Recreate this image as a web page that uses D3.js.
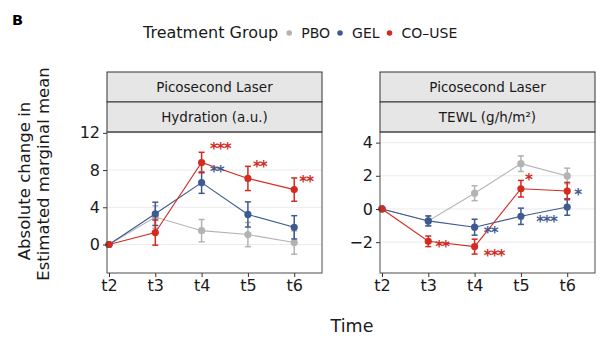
<!DOCTYPE html>
<html>
<head>
<meta charset="utf-8">
<script src="https://cdn.jsdelivr.net/npm/d3@7"></script>
<style>
  body { margin: 0; background: #fff; }
  text { font-family: "DejaVu Sans", sans-serif; }
</style>
</head>
<body>
<svg id="chart" width="607" height="346"></svg>
<script>
const times = ['t2', 't3', 't4', 't5', 't6']
const groups = ['PBO', 'GEL', 'CO–USE']
const groupColors = ['#b3b3b3', '#3d5a91', '#d22b22']

// Hydration (a.u.): mean change and half-width of error bar, per group
const hydrationPBO = [0, 2.95, 1.49, 1.07, 0.21]
const hydrationPBOErr = [0, 1.2, 1.2, 1.3, 1.25]
const hydrationGEL = [0, 3.3, 6.65, 3.23, 1.85]
const hydrationGELErr = [0, 1.25, 1.15, 1.35, 1.25]
const hydrationCO = [0, 1.28, 8.81, 7.1, 5.9]
const hydrationCOErr = [0, 1.35, 1.1, 1.3, 1.25]

// TEWL (g/h/m2)
const tewlPBO = [0, -0.72, 0.95, 2.73, 1.99]
const tewlPBOErr = [0, 0.3, 0.45, 0.47, 0.47]
const tewlGEL = [0, -0.72, -1.1, -0.44, 0.12]
const tewlGELErr = [0, 0.3, 0.48, 0.49, 0.5]
const tewlCO = [0, -1.95, -2.27, 1.22, 1.08]
const tewlCOErr = [0, 0.32, 0.45, 0.5, 0.52]

// significance marks: [group index, x (time index), y, label]
const hydrationSig = [
  [2, 2.18, 10.7, '***'],
  [1, 2.18, 8.28, '**'],
  [2, 3.11, 8.78, '**'],
  [2, 4.11, 7.18, '**']
]
const tewlSig = [
  [2, 1.15, -2.05, '**'],
  [2, 2.2, -2.59, '***'],
  [1, 2.2, -1.19, '**'],
  [2, 3.09, 2.0, '*'],
  [1, 3.33, -0.54, '***'],
  [1, 4.15, 1.08, '*']
]

const hydrationTicks = [0, 4, 8, 12]
const tewlTicks = [-2, 0, 2, 4]

const svg = d3.select('#chart')

const stripTop = 72
const stripH = 30
const plotTop = stripTop + stripH * 2
const plotBottom = 273

const panels = [
  {
    x0: 107, x1: 322,
    title: 'Hydration (a.u.)',
    yDomain: [-3.06, 12.09],
    ticks: hydrationTicks,
    series: [[hydrationPBO, hydrationPBOErr], [hydrationGEL, hydrationGELErr], [hydrationCO, hydrationCOErr]],
    sig: hydrationSig
  },
  {
    x0: 380, x1: 595,
    title: 'TEWL (g/h/m²)',
    yDomain: [-3.86, 4.64],
    ticks: tewlTicks,
    series: [[tewlPBO, tewlPBOErr], [tewlGEL, tewlGELErr], [tewlCO, tewlCOErr]],
    sig: tewlSig
  }
]

function drawPanel (p) {
  const x = d3.scaleLinear().domain([-0.043, 4.6]).range([p.x0, p.x1])
  const y = d3.scaleLinear().domain(p.yDomain).range([plotBottom, plotTop])
  const g = svg.append('g')

  // grid
  g.selectAll('.grid')
    .data(p.ticks)
    .enter()
    .append('line')
    .attr('x1', p.x0)
    .attr('x2', p.x1)
    .attr('y1', d => y(d))
    .attr('y2', d => y(d))
    .attr('stroke', '#ebebeb')
    .attr('stroke-width', 1)

  // strips
  const strips = ['Picosecond Laser', p.title]
  strips.forEach((s, i) => {
    g.append('rect')
      .attr('x', p.x0)
      .attr('y', stripTop + i * stripH)
      .attr('width', p.x1 - p.x0)
      .attr('height', stripH)
      .attr('fill', '#e6e6e6')
      .attr('stroke', '#333')
      .attr('stroke-width', 1)
    g.append('text')
      .attr('x', (p.x0 + p.x1) / 2)
      .attr('y', stripTop + i * stripH + stripH / 2)
      .attr('dy', '0.36em')
      .attr('text-anchor', 'middle')
      .attr('font-size', 13.5)
      .attr('fill', '#1a1a1a')
      .text(s)
  })

  // series
  const line = d3.line().x((d, i) => x(i)).y(d => y(d))
  p.series.forEach((s, k) => {
    const [vals, errs] = s
    const col = groupColors[k]
    const sg = g.append('g')
    sg.append('path')
      .datum(vals)
      .attr('d', line)
      .attr('fill', 'none')
      .attr('stroke', col)
      .attr('stroke-width', 1.1)
    const eb = sg.selectAll('.eb')
      .data(vals.map((v, i) => ({ v, e: errs[i], i })).filter(d => d.e > 0))
      .enter()
      .append('g')
      .attr('stroke', col)
      .attr('stroke-width', 1.5)
    eb.append('line')
      .attr('x1', d => x(d.i)).attr('x2', d => x(d.i))
      .attr('y1', d => y(d.v - d.e)).attr('y2', d => y(d.v + d.e))
    eb.append('line')
      .attr('x1', d => x(d.i) - 3).attr('x2', d => x(d.i) + 3)
      .attr('y1', d => y(d.v + d.e)).attr('y2', d => y(d.v + d.e))
    eb.append('line')
      .attr('x1', d => x(d.i) - 3).attr('x2', d => x(d.i) + 3)
      .attr('y1', d => y(d.v - d.e)).attr('y2', d => y(d.v - d.e))
    sg.selectAll('circle')
      .data(vals)
      .enter()
      .append('circle')
      .attr('cx', (d, i) => x(i))
      .attr('cy', d => y(d))
      .attr('r', 3.6)
      .attr('fill', col)
  })

  // significance labels
  g.selectAll('.sig')
    .data(p.sig)
    .enter()
    .append('text')
    .attr('x', d => x(d[1]))
    .attr('y', d => y(d[2]))
    .attr('dy', '0.62em')
    .attr('font-size', 15)
    .attr('font-weight', 'bold')
    .attr('letter-spacing', '-1px')
    .attr('fill', d => groupColors[d[0]])
    .text(d => d[3])

  // panel border
  g.append('rect')
    .attr('x', p.x0)
    .attr('y', plotTop)
    .attr('width', p.x1 - p.x0)
    .attr('height', plotBottom - plotTop)
    .attr('fill', 'none')
    .attr('stroke', '#4d4d4d')
    .attr('stroke-width', 1)

  // axes
  const yAxis = d3.axisLeft(y).tickValues(p.ticks).tickSize(4).tickPadding(3).tickFormat(d => d < 0 ? '−' + Math.abs(d) : d)
  const ya = g.append('g').attr('transform', `translate(${p.x0},0)`).call(yAxis)
  ya.select('.domain').remove()
  ya.selectAll('line').attr('stroke', '#333')
  ya.selectAll('text').attr('font-size', 16).attr('fill', '#1a1a1a').attr('font-family', '"DejaVu Sans", sans-serif')

  const xAxis = d3.axisBottom(x).tickValues(d3.range(times.length)).tickSize(4).tickPadding(3).tickFormat(i => times[i])
  const xa = g.append('g').attr('transform', `translate(0,${plotBottom})`).call(xAxis)
  xa.select('.domain').remove()
  xa.selectAll('line').attr('stroke', '#333')
  xa.selectAll('text').attr('font-size', 16).attr('fill', '#1a1a1a').attr('font-family', '"DejaVu Sans", sans-serif')
}

panels.forEach(drawPanel)

// panel tag
svg.append('text')
  .attr('x', 12)
  .attr('y', 25)
  .attr('font-size', 14.5)
  .attr('font-weight', 'bold')
  .text('B')

// legend
const legend = svg.append('g')
const legTitle = legend.append('text')
  .attr('x', 143)
  .attr('y', 38)
  .attr('font-size', 16)
  .attr('fill', '#1a1a1a')
  .text('Treatment Group')
let lx = 143 + legTitle.node().getComputedTextLength() + 11
groups.forEach((grp, i) => {
  legend.append('circle')
    .attr('cx', lx)
    .attr('cy', 33)
    .attr('r', 2.8)
    .attr('fill', groupColors[i])
  const t = legend.append('text')
    .attr('x', lx + 12)
    .attr('y', 38)
    .attr('font-size', 14)
    .attr('fill', '#1a1a1a')
    .text(grp)
  lx += 12 + t.node().getComputedTextLength() + 10
})

// axis titles
svg.append('text')
  .attr('transform', 'translate(30,181) rotate(-90)')
  .attr('text-anchor', 'middle')
  .attr('font-size', 16.5)
  .attr('fill', '#1a1a1a')
  .text('Absolute change in')
svg.append('text')
  .attr('transform', 'translate(49,174) rotate(-90)')
  .attr('text-anchor', 'middle')
  .attr('font-size', 16.5)
  .attr('fill', '#1a1a1a')
  .text('Estimated marginal mean')
svg.append('text')
  .attr('x', 352)
  .attr('y', 332)
  .attr('text-anchor', 'middle')
  .attr('font-size', 17.5)
  .attr('fill', '#1a1a1a')
  .text('Time')
</script>
</body>
</html>
